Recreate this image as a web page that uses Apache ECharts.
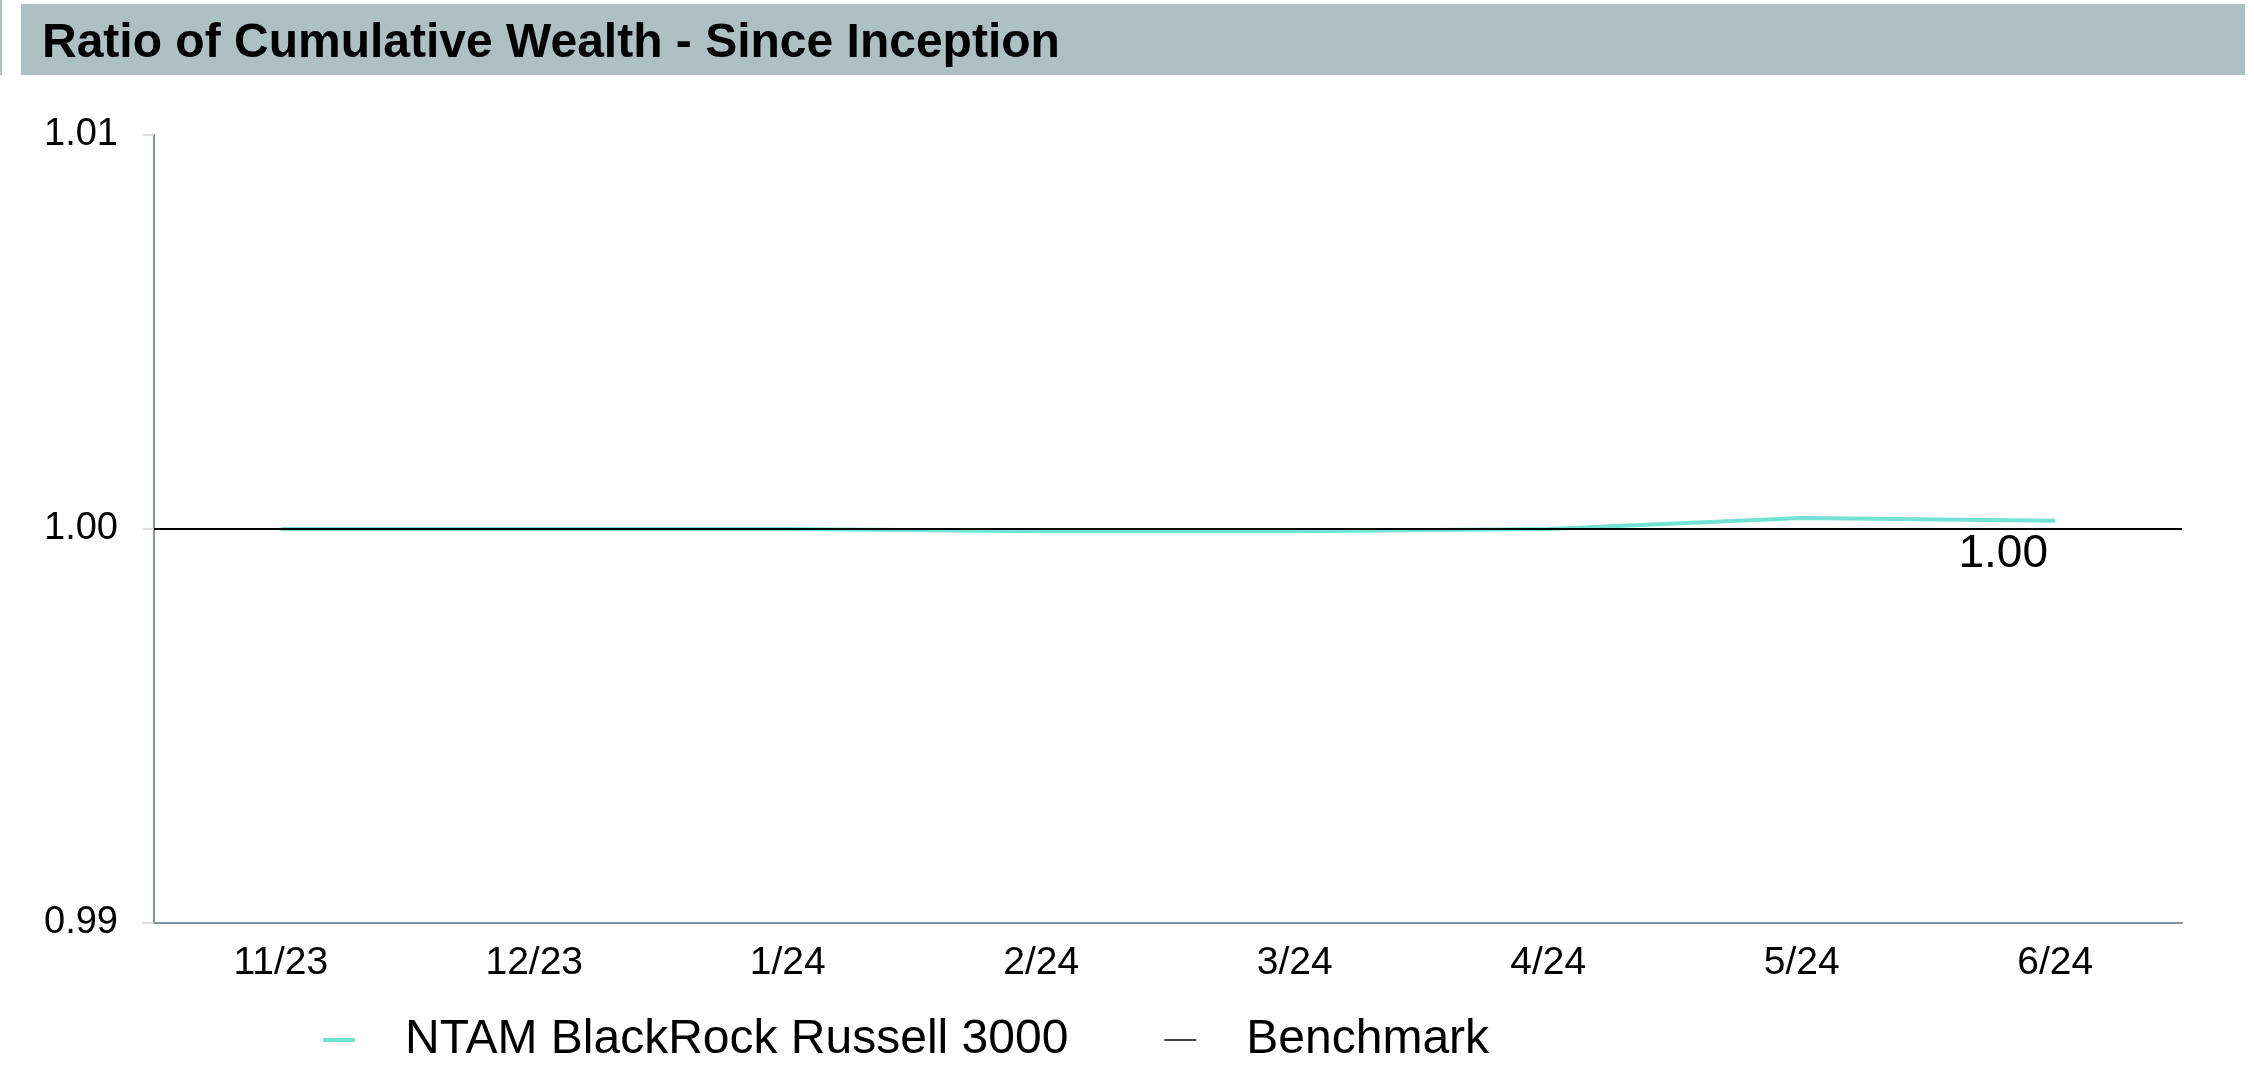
<!DOCTYPE html>
<html lang="en">
<head>
    <meta charset="UTF-8">
    <title>Ratio of Cumulative Wealth</title>
    <script src="https://cdn.jsdelivr.net/npm/echarts@6/dist/echarts.min.js"></script>
    <style>
        html, body { margin: 0; padding: 0; background: #fff; }
    </style>
</head>
<body>
<div id="main" style="width: 2254px;height:1068px;"></div>
<script type="text/javascript">
    // data
    var months = ['11/23', '12/23', '1/24', '2/24', '3/24', '4/24', '5/24', '6/24'];
    var fundRatio = [1.0000, 1.0000, 1.0000, 0.99994, 0.99994, 1.0000, 1.00028, 1.00021];
    var benchRatio = [1, 1, 1, 1, 1, 1, 1, 1];
    var yTicks = [0.99, 1.00, 1.01];

    var font = '"Liberation Sans", Arial, Helvetica, sans-serif';
    var myChart = echarts.init(document.getElementById('main'));

    myChart.setOption({
        animation: false,
        title: {
            text: 'Ratio of Cumulative Wealth - Since Inception',
            left: 37,
            top: 11,
            textStyle: { fontFamily: font, fontSize: 48, fontWeight: 'bold', color: '#000', lineHeight: 56 }
        },
        graphic: [
            { type: 'rect', z: -1, shape: { x: 0, y: 0, width: 2, height: 75 }, style: { fill: '#adc0c4' } },
            { type: 'rect', z: -1, shape: { x: 21, y: 4, width: 2224, height: 71 }, style: { fill: '#adc0c4' } }
        ],
        legend: {
            left: 318,
            top: 1011,
            itemWidth: 32,
            itemHeight: 4,
            itemGap: 96,
            textStyle: { fontFamily: font, fontSize: 48, color: '#000', padding: [0, 0, 0, 45] },
            data: [
                { name: 'NTAM BlackRock Russell 3000', icon: 'rect', itemStyle: { color: '#74e1d6' } },
                { name: 'Benchmark', icon: 'path://M0,0H32V1.4H0Z', itemStyle: { color: '#000' } }
            ]
        },
        grid: { left: 154, right: 72, top: 135, bottom: 145 },
        xAxis: {
            type: 'category',
            data: months,
            boundaryGap: true,
            axisLine: { lineStyle: { color: '#84939d', width: 2 } },
            axisTick: { alignWithLabel: true, length: 11, lineStyle: { color: '#d4d4d4', width: 1.5 } },
            axisLabel: { fontFamily: font, fontSize: 39, color: '#000', margin: 21 }
        },
        yAxis: {
            type: 'value',
            min: yTicks[0],
            max: yTicks[yTicks.length - 1],
            interval: 0.01,
            axisLine: { show: true, lineStyle: { color: '#84939d', width: 2 } },
            axisTick: { show: true, length: 11, lineStyle: { color: '#d4d4d4', width: 1.5 } },
            splitLine: { show: false },
            axisLabel: {
                fontFamily: font, fontSize: 38, color: '#000', margin: 36,
                formatter: function (v) { return v.toFixed(2); }
            }
        },
        series: [
            {
                name: 'Benchmark',
                type: 'line',
                data: benchRatio,
                symbol: 'none',
                z: 3,
                lineStyle: { color: '#000', width: 2 },
                itemStyle: { color: '#000' },
                markLine: {
                    silent: true,
                    symbol: 'none',
                    label: { show: false },
                    lineStyle: { color: '#000', width: 2, type: 'solid' },
                    data: [{ yAxis: benchRatio[0] }]
                }
            },
            {
                name: 'NTAM BlackRock Russell 3000',
                type: 'line',
                data: fundRatio,
                symbol: 'none',
                z: 2,
                lineStyle: { color: '#74e1d6', width: 4 },
                itemStyle: { color: '#74e1d6' },
                endLabel: {
                    show: true,
                    distance: 0,
                    align: 'center',
                    verticalAlign: 'middle',
                    offset: [-52, 34],
                    fontFamily: font,
                    fontSize: 46,
                    color: '#000',
                    formatter: function (p) { return p.value.toFixed(2); }
                }
            }
        ]
    });
</script>
</body>
</html>
